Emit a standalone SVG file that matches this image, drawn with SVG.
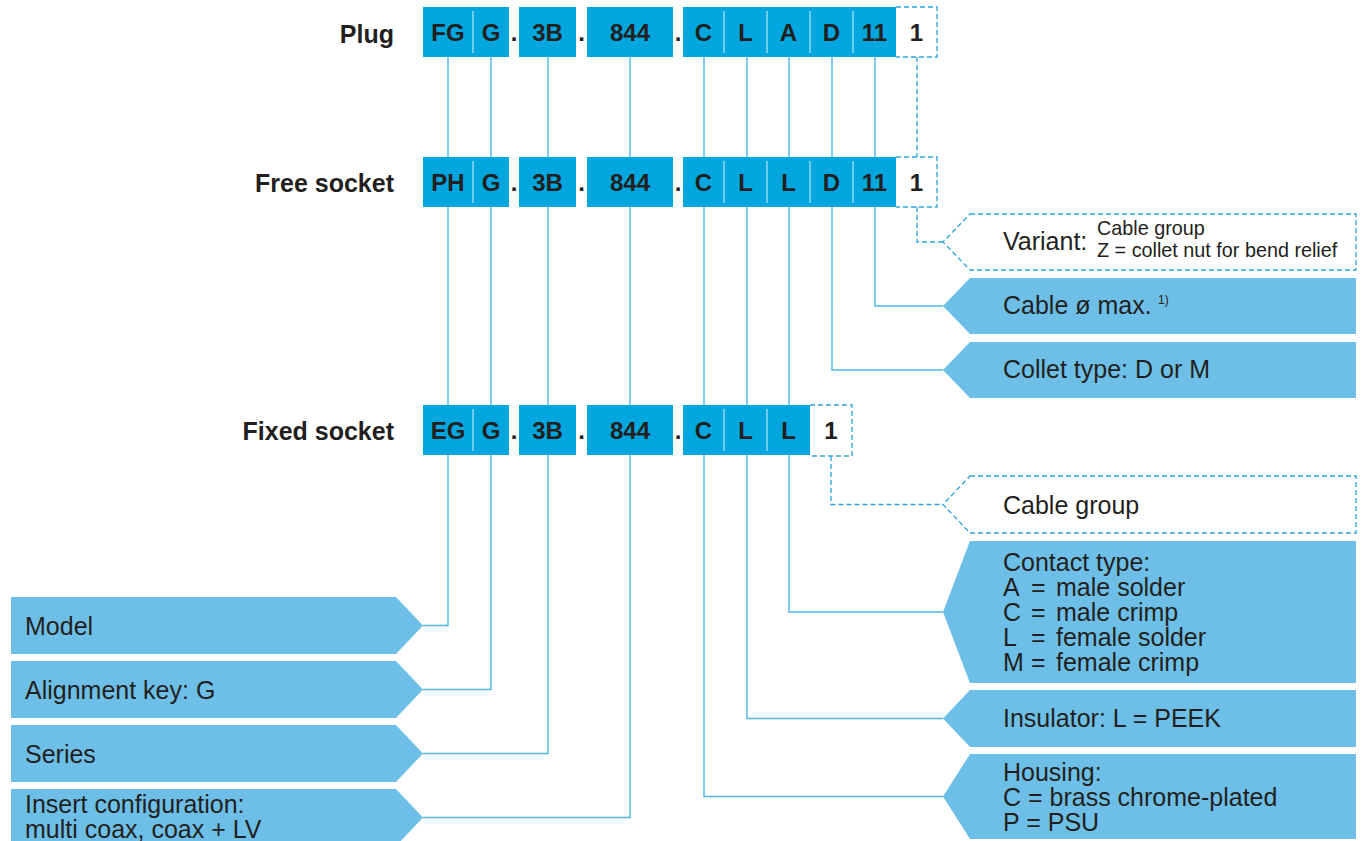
<svg xmlns="http://www.w3.org/2000/svg" width="1364" height="841" viewBox="0 0 1364 841">
<style>
.bg{fill:#ffffff}
.box{fill:#00A6DD}
.dv{stroke:#ffffff;stroke-width:1;opacity:0.85}
.bt{font-family:"Liberation Sans",Arial,sans-serif;font-weight:bold;font-size:24px;fill:#231F20;text-anchor:middle}
.rt{font-family:"Liberation Sans",Arial,sans-serif;font-weight:bold;font-size:25px;fill:#231F20;text-anchor:end}
.db{fill:#ffffff;stroke:#2AA3DC;stroke-width:1.3;stroke-dasharray:5 3}
.lbl{fill:#6DBFE7}
.dl{fill:#ffffff;stroke:#2AA3DC;stroke-width:1.3;stroke-dasharray:5 3}
.lt{font-family:"Liberation Sans",Arial,sans-serif;font-size:25px;fill:#231F20}
.st{font-family:"Liberation Sans",Arial,sans-serif;font-size:19.8px;fill:#231F20}
.sup{font-family:"Liberation Sans",Arial,sans-serif;font-size:12px;fill:#231F20}
.cn{fill:none;stroke:#4DB8E8;stroke-width:1.4}
.cd{fill:none;stroke:#2AA3DC;stroke-width:1.3;stroke-dasharray:5 3}
</style>
<rect class="bg" x="0" y="0" width="1364" height="841"/>

<g id="connectors">
  <path class="cn" d="M448,57V157M491,57V157M548,57V157M630,57V157M704,57V157M747,57V157M789,57V157M832,57V157M875,57V157"/>
  <path class="cd" d="M917,57V157"/>
  <path class="cn" d="M448,207V405M491,207V405M548,207V405M630,207V405M704,207V405M747,207V405M789,207V405"/>
  <path class="cn" d="M832,207V370H943M875,207V306H943"/>
  <path class="cd" d="M917,207V242H943"/>
  <path class="cn" d="M448,455V625.5H423M491,455V689.5H423M548,455V753.5H423M630,455V817.5H423"/>
  <path class="cn" d="M704,455V796.5H943M747,455V718.5H943M789,455V612H943"/>
  <path class="cd" d="M831,456V504.5H943"/>
</g>

<g id="row-plug">
  <text class="rt" x="394" y="43">Plug</text>
  <rect class="box" x="423" y="7" width="86" height="50"/>
  <line class="dv" x1="473" y1="11" x2="473" y2="53"/>
  <rect class="box" x="519" y="7" width="57" height="50"/>
  <rect class="box" x="587" y="7" width="86" height="50"/>
  <rect class="box" x="683" y="7" width="213" height="50"/>
  <line class="dv" x1="724" y1="11" x2="724" y2="53"/>
  <line class="dv" x1="767" y1="11" x2="767" y2="53"/>
  <line class="dv" x1="810" y1="11" x2="810" y2="53"/>
  <line class="dv" x1="853" y1="11" x2="853" y2="53"/>
  <path class="db" d="M896,7H937V57H896"/>
  <text class="bt" x="448" y="41">FG</text>
  <text class="bt" x="491" y="41">G</text>
  <text class="bt" x="514" y="41">.</text>
  <text class="bt" x="547.5" y="41">3B</text>
  <text class="bt" x="581.5" y="41">.</text>
  <text class="bt" x="630" y="41">844</text>
  <text class="bt" x="678" y="41">.</text>
  <text class="bt" x="703.5" y="41">C</text>
  <text class="bt" x="745.5" y="41">L</text>
  <text class="bt" x="788.5" y="41">A</text>
  <text class="bt" x="831.5" y="41">D</text>
  <text class="bt" x="874.5" y="41">11</text>
  <text class="bt" x="916.5" y="41">1</text>
</g>

<g id="row-free-socket">
  <text class="rt" x="394" y="192">Free socket</text>
  <rect class="box" x="423" y="157" width="86" height="50"/>
  <line class="dv" x1="473" y1="161" x2="473" y2="203"/>
  <rect class="box" x="519" y="157" width="57" height="50"/>
  <rect class="box" x="587" y="157" width="86" height="50"/>
  <rect class="box" x="683" y="157" width="213" height="50"/>
  <line class="dv" x1="724" y1="161" x2="724" y2="203"/>
  <line class="dv" x1="767" y1="161" x2="767" y2="203"/>
  <line class="dv" x1="810" y1="161" x2="810" y2="203"/>
  <line class="dv" x1="853" y1="161" x2="853" y2="203"/>
  <path class="db" d="M896,157H937V207H896"/>
  <text class="bt" x="448" y="191">PH</text>
  <text class="bt" x="491" y="191">G</text>
  <text class="bt" x="514" y="191">.</text>
  <text class="bt" x="547.5" y="191">3B</text>
  <text class="bt" x="581.5" y="191">.</text>
  <text class="bt" x="630" y="191">844</text>
  <text class="bt" x="678" y="191">.</text>
  <text class="bt" x="703.5" y="191">C</text>
  <text class="bt" x="745.5" y="191">L</text>
  <text class="bt" x="788.5" y="191">L</text>
  <text class="bt" x="831.5" y="191">D</text>
  <text class="bt" x="874.5" y="191">11</text>
  <text class="bt" x="916.5" y="191">1</text>
</g>

<g id="row-fixed-socket">
  <text class="rt" x="394" y="440">Fixed socket</text>
  <rect class="box" x="423" y="405" width="86" height="50"/>
  <line class="dv" x1="473" y1="409" x2="473" y2="451"/>
  <rect class="box" x="519" y="405" width="57" height="50"/>
  <rect class="box" x="587" y="405" width="86" height="50"/>
  <rect class="box" x="683" y="405" width="127" height="50"/>
  <line class="dv" x1="724" y1="409" x2="724" y2="451"/>
  <line class="dv" x1="767" y1="409" x2="767" y2="451"/>
  <path class="db" d="M810,405H852V456H810"/>
  <text class="bt" x="448" y="439">EG</text>
  <text class="bt" x="491" y="439">G</text>
  <text class="bt" x="514" y="439">.</text>
  <text class="bt" x="547.5" y="439">3B</text>
  <text class="bt" x="581.5" y="439">.</text>
  <text class="bt" x="630" y="439">844</text>
  <text class="bt" x="678" y="439">.</text>
  <text class="bt" x="703.5" y="439">C</text>
  <text class="bt" x="745.5" y="439">L</text>
  <text class="bt" x="788.5" y="439">L</text>
  <text class="bt" x="831" y="439">1</text>
</g>

<g id="label-variant">
  <path class="dl" d="M970,214H1356V270H970L943,242Z"/>
  <text class="lt" x="1003" y="250">Variant:</text>
  <text class="st" x="1097" y="235">Cable group</text>
  <text class="st" x="1097" y="257">Z = collet nut for bend relief</text>
</g>
<g id="label-cable-diameter">
  <path class="lbl" d="M970,278H1356V334H970L943,306Z"/>
  <text class="lt" x="1003" y="314">Cable ø max.</text>
  <text class="sup" x="1158" y="304">1)</text>
</g>
<g id="label-collet">
  <path class="lbl" d="M970,342H1356V398H970L943,370Z"/>
  <text class="lt" x="1003" y="378">Collet type: D or M</text>
</g>
<g id="label-cable-group">
  <path class="dl" d="M970,476H1356V533H970L943,504.5Z"/>
  <text class="lt" x="1003" y="514">Cable group</text>
</g>
<g id="label-contact">
  <path class="lbl" d="M970,541H1356V683H970L943,612Z"/>
  <text class="lt" x="1003" y="571">Contact type:</text>
  <text class="lt" y="596"><tspan x="1003">A</tspan><tspan x="1031">=</tspan><tspan x="1056">male solder</tspan></text>
  <text class="lt" y="621"><tspan x="1003">C</tspan><tspan x="1031">=</tspan><tspan x="1056">male crimp</tspan></text>
  <text class="lt" y="646"><tspan x="1003">L</tspan><tspan x="1031">=</tspan><tspan x="1056">female solder</tspan></text>
  <text class="lt" y="671"><tspan x="1003">M</tspan><tspan x="1031">=</tspan><tspan x="1056">female crimp</tspan></text>
</g>
<g id="label-insulator">
  <path class="lbl" d="M970,690H1356V747H970L943,718.5Z"/>
  <text class="lt" x="1003" y="727">Insulator: L = PEEK</text>
</g>
<g id="label-housing">
  <path class="lbl" d="M970,754H1356V839H970L943,796.5Z"/>
  <text class="lt" x="1003" y="781">Housing:</text>
  <text class="lt" x="1003" y="806">C = brass chrome-plated</text>
  <text class="lt" x="1003" y="831">P = PSU</text>
</g>

<g id="label-model">
  <path class="lbl" d="M11,597H396L423,625.5L396,654H11Z"/>
  <text class="lt" x="25" y="635">Model</text>
</g>
<g id="label-alignment">
  <path class="lbl" d="M11,661H396L423,689.5L396,718H11Z"/>
  <text class="lt" x="25" y="699">Alignment key: G</text>
</g>
<g id="label-series">
  <path class="lbl" d="M11,725H396L423,753.5L396,782H11Z"/>
  <text class="lt" x="25" y="763">Series</text>
</g>
<g id="label-insert">
  <path class="lbl" d="M11,789H396L423,817.5L396,846H11Z"/>
  <text class="lt" x="25" y="813">Insert configuration:</text>
  <text class="lt" x="25" y="838">multi coax, coax + LV</text>
</g>
</svg>
